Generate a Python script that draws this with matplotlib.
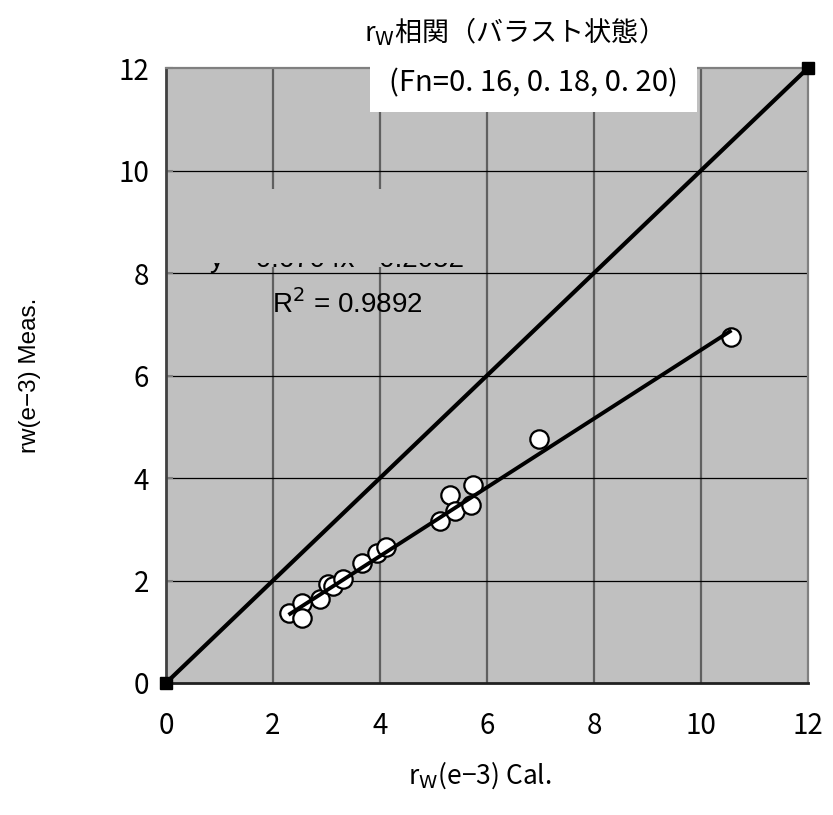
import matplotlib
matplotlib.use("Agg")
import matplotlib.pyplot as plt
from matplotlib.patches import Rectangle
from matplotlib.transforms import Bbox, TransformedBbox
import numpy as np

# ---- data ----
cal = [2.29, 2.54, 2.54, 2.88, 3.03, 3.13, 3.31, 3.66, 3.95, 4.11,
       5.12, 5.30, 5.41, 5.71, 5.74, 6.98, 10.57]
meas = [1.37, 1.57, 1.27, 1.63, 1.93, 1.89, 2.03, 2.34, 2.53, 2.66,
        3.17, 3.67, 3.36, 3.47, 3.86, 4.76, 6.75]
ref_x = [0, 12]
ref_y = [0, 12]
fit_slope = 0.6704
fit_intercept = -0.2052
r2_value = 0.9892
ticks = [0, 2, 4, 6, 8, 10, 12]
tick_labels = ["0", "2", "4", "6", "8", "10", "12"]
title_text = "r$_{\\mathrm{W}}$相関（バラスト状態）"
subtitle_text = "(Fn=0. 16, 0. 18, 0. 20)"
xlabel_text = "r$_{\\mathrm{W}}$(e−3) Cal."
ylabel_text = "rw(e−3) Meas."

JP = ["Noto Sans CJK JP", "DejaVu Sans"]
AR = ["Liberation Sans", "DejaVu Sans"]

fig = plt.figure(figsize=(8.33, 8.15), dpi=100)
ax = fig.add_axes([166/833, 1-683/815, 642/833, 615/815])
ax.set_facecolor("#c0c0c0")
ax.set_xlim(0, 12)
ax.set_ylim(0, 12)

# grid
for t in ticks[1:-1]:
    ax.axvline(t, color="#606060", lw=1.6, zorder=1)
for t in ticks[1:-1]:
    ax.axhline(t, color="black", lw=0.9, zorder=1)

# gray cover block (hides part of grid and equation label)
ax.add_patch(Rectangle((0, 8.12), 4.71, 1.52, facecolor="#c0c0c0",
                       edgecolor="none", zorder=2))

# equation label (mostly hidden)
eq = ax.text(0.82, 8.11, "y = %.4fx - %.4f" % (fit_slope, abs(fit_intercept)),
             fontsize=20, family=AR, va="baseline", ha="left", zorder=3)
eq.set_clip_on(True)
eq.set_clip_box(TransformedBbox(Bbox([[0, 0], [12, 8.2]]), ax.transData))

ax.text(1.98, 7.22, "R$^2$ = %.4f" % r2_value, fontsize=20, family=AR,
        va="baseline", ha="left", zorder=3)

# points
ax.scatter(cal, meas, s=175, facecolor="white", edgecolor="black",
           linewidths=1.6, zorder=4)

# fit line
xs = np.array([min(cal), max(cal)])
ax.plot(xs, fit_slope * xs + fit_intercept, color="black", lw=2.8,
        zorder=5, solid_capstyle="butt")

# y = x line
ax.plot(ref_x, ref_y, color="black", lw=3.0, marker="s", ms=8.5,
        zorder=6, clip_on=False)

# spines
ax.spines["left"].set_color("#404040")
ax.spines["left"].set_linewidth(2)
ax.spines["bottom"].set_color("#202020")
ax.spines["bottom"].set_linewidth(2)
for s in ("top", "right"):
    ax.spines[s].set_color("#808080")
    ax.spines[s].set_linewidth(1.6)

ax.set_xticks(ticks)
ax.set_xticklabels(tick_labels)
ax.set_yticks(ticks)
ax.set_yticklabels(tick_labels)
ax.tick_params(axis="x", length=0, pad=20, labelsize=20)
ax.tick_params(axis="y", length=5, direction="in", color="#808080",
               width=1.5, pad=12, labelsize=20)
for lab in ax.get_xticklabels() + ax.get_yticklabels():
    lab.set_family(JP)

# subtitle box
ax.add_patch(Rectangle(((370-166)/642, (683-112)/615), (697-370)/642, 0.1,
                       transform=ax.transAxes, facecolor="white",
                       edgecolor="none", zorder=10, clip_on=False))
fig.text(533/833, 1-83/815, subtitle_text, fontsize=21, family=JP,
         ha="center", va="center", zorder=11)

fig.text(506/833, 1-32/815, title_text, fontsize=19.5, family=JP,
         ha="center", va="center")

fig.text(480/833, 1-775/815, xlabel_text, fontsize=19, family=JP,
         ha="center", va="center")
fig.text(30/833, 1-375/815, ylabel_text, fontsize=17.5, family=AR,
         ha="center", va="center", rotation=90)

fig.savefig("out.png", dpi=100)
